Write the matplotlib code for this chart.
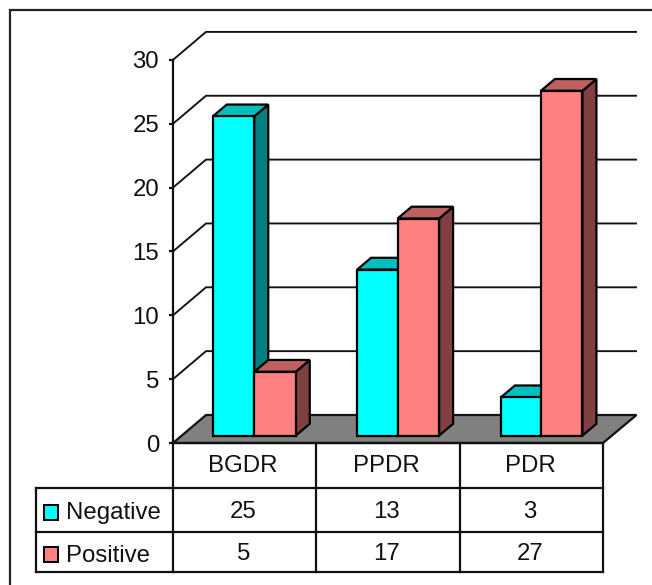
import matplotlib
matplotlib.use("Agg")
import matplotlib.pyplot as plt
from matplotlib.patches import Polygon, Rectangle

plt.rcParams['font.family'] = ['Liberation Sans', 'DejaVu Sans']

categories = ['BGDR', 'PPDR', 'PDR']
series_names = ['Negative', 'Positive']
negative = [25, 13, 3]
positive = [5, 17, 27]
yticks = [0, 5, 10, 15, 20, 25, 30]

W, H = 652, 585
X0, Y0 = 173.0, 443.0      # pixel position of category 0 / value 0
XU, YU = 143.33, 12.77     # pixels per category / per value unit


def xd(px):
    return (px - X0) / XU


def yd(px):
    return (Y0 - px) / YU


fig = plt.figure(figsize=(W / 100, H / 100), dpi=100, facecolor='white')
ax = fig.add_axes([0, 0, 1, 1])
ax.set_xlim(xd(0), xd(W))
ax.set_ylim(yd(H), yd(0))
ax.patch.set_visible(False)

LW = 1.6
INK = '#111111'
FS = 17.3
TC = '#111111'
# 3-D offsets in data units
WALL_DX, WALL_DY = 33 / XU, 28 / YU
BAR_DX, BAR_DY = 14 / XU, 11.8 / YU
BASE = 7.4 / YU
SHIFT = 9.6 / XU
BAR_W = 41.5 / XU
NEG_W = [41.5 / XU, 40.5 / XU, 40 / XU]
n = len(categories)

# axis
for s in ('top', 'right', 'bottom'):
    ax.spines[s].set_visible(False)
ax.spines['left'].set_position(('data', 0))
ax.spines['left'].set_bounds(0, 30)
ax.spines['left'].set_linewidth(LW)
ax.spines['left'].set_color(INK)
ax.set_xticks([])
ax.set_yticks(yticks)
ax.tick_params(axis='y', length=3, width=LW, color=INK, pad=7,
               labelsize=FS, labelcolor=TC)

# outer frame
ax.plot([xd(9.5), xd(9.5), xd(W)], [yd(H), yd(9.5), yd(9.5)], color='#222222',
        lw=LW, zorder=1, solid_joinstyle='miter')

# gridlines on side and back wall
for t in yticks[1:]:
    ax.plot([0, WALL_DX, xd(636)], [t, t + WALL_DY, t + WALL_DY],
            color=INK, lw=LW * 0.85, zorder=1, solid_joinstyle='miter')

# floor
ax.add_patch(Polygon([(0, 0), (WALL_DX, WALL_DY), (n + 33.5 / XU, WALL_DY), (n, 0)],
                     closed=True, facecolor='#808080', edgecolor=INK, lw=LW,
                     zorder=2, joinstyle='miter'))


def bar3d(left, width, value, front, top, side, z):
    b = BASE
    right = left + width
    ax.add_patch(Polygon([(right, b), (right + BAR_DX, b + BAR_DY),
                          (right + BAR_DX, b + value + BAR_DY), (right, b + value)],
                         closed=True, facecolor=side, edgecolor='black', lw=LW, zorder=z))
    ax.add_patch(Polygon([(left, b + value), (left + BAR_DX, b + value + BAR_DY),
                          (right + BAR_DX, b + value + BAR_DY), (right, b + value)],
                         closed=True, facecolor=top, edgecolor='black', lw=LW, zorder=z))
    ax.bar(left, value, width=width, bottom=b, align='edge', facecolor=front,
           edgecolor='black', linewidth=LW, zorder=z + 0.1)


neg_style = ('#00FFFF', '#00BFBF', '#008080')
pos_style = ('#FF8080', '#BF6060', '#804040')
for i in range(n):
    c = i + 0.5 + SHIFT
    bar3d(c - NEG_W[i], NEG_W[i], negative[i], *neg_style, z=3 + i)
    bar3d(c, BAR_W, positive[i], *pos_style, z=3.3 + i)

# data table
row_y = [yd(443), yd(488), yd(532), yd(572)]
tab_left = xd(36)
tk = dict(color=INK, lw=LW, zorder=2, solid_capstyle='projecting')
ax.plot([0, n], [row_y[0], row_y[0]], **tk)
for y in row_y[1:]:
    ax.plot([tab_left, n], [y, y], **tk)
ax.plot([tab_left, tab_left], [row_y[1], row_y[3]], **tk)
for i in range(n + 1):
    ax.plot([i, i], [row_y[0], row_y[3]], **tk)

for i, name in enumerate(categories):
    ax.text(i + 0.49, yd(466), name, ha='center', va='center', fontsize=FS, color=TC)
for row, (vals, cy) in enumerate(zip((negative, positive), (yd(511.5), yd(554)))):
    for i, v in enumerate(vals):
        ax.text(i + 0.49, cy, str(v), ha='center', va='center', fontsize=FS, color=TC)

# legend keys
for name, col, ytop, ytxt in zip(series_names, (neg_style[0], pos_style[0]),
                                 (505, 547), (513.5, 555.5)):
    ax.add_patch(Rectangle((xd(43.5), yd(ytop + 14.5)), 14.5 / XU, 14.5 / YU,
                           facecolor=col, edgecolor='black', lw=LW * 0.9, zorder=3))
    ax.text(xd(66), yd(ytxt), name, ha='left', va='center', fontsize=FS, color=TC)

fig.savefig('out.png', dpi=100, facecolor='white')
